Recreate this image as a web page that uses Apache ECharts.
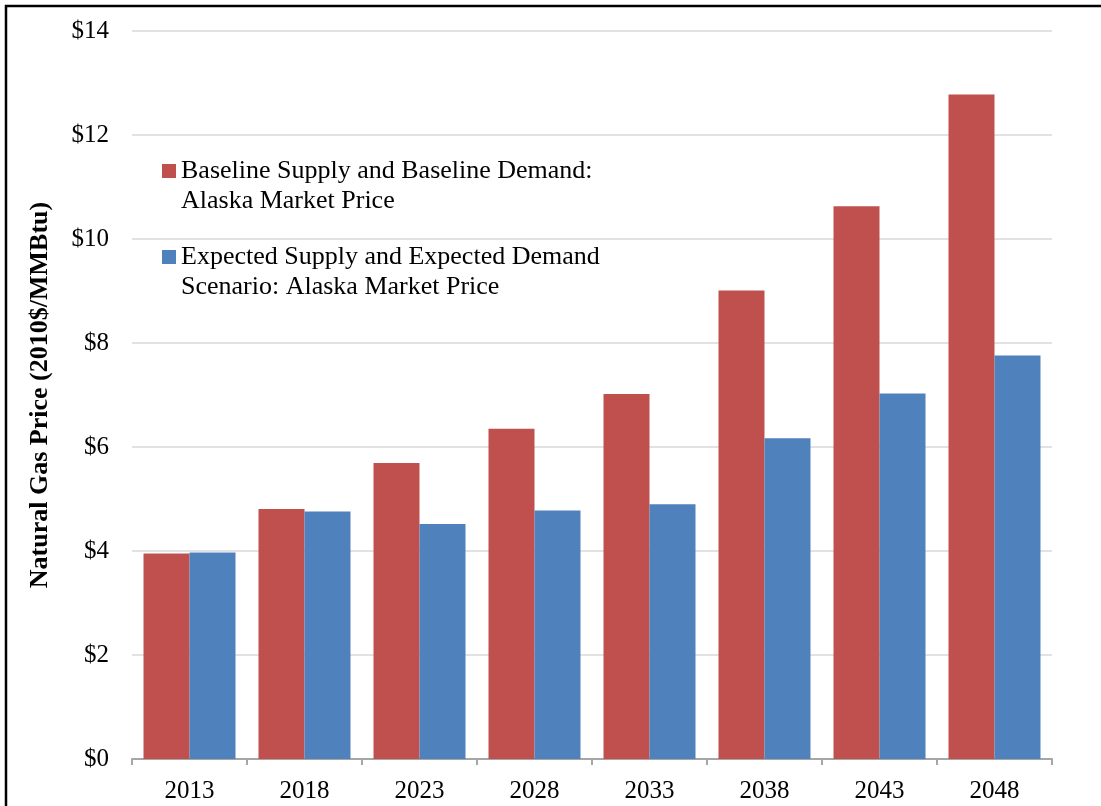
<!DOCTYPE html>
<html>
<head>
<meta charset="utf-8">
<title>Natural Gas Price</title>
<script src="https://cdn.jsdelivr.net/npm/echarts@6/dist/echarts.min.js"></script>
<style>
  html, body { margin: 0; padding: 0; background: #ffffff; }
  #chart { width: 1101px; height: 806px; }
</style>
</head>
<body>
<div id="chart"></div>
<script>
// Forecast years on the category axis
const years = ['2013', '2018', '2023', '2028', '2033', '2038', '2043', '2048'];

// Natural gas price, 2010$/MMBtu
const baselinePrice = [3.95, 4.81, 5.69, 6.35, 7.02, 9.01, 10.63, 12.78];
const expectedPrice = [3.97, 4.76, 4.52, 4.78, 4.90, 6.17, 7.03, 7.76];

const seriesNames = [
  'Baseline Supply and Baseline Demand:\nAlaska Market Price',
  'Expected Supply and Expected Demand\nScenario: Alaska Market Price'
];

const yTicks = { min: 0, max: 14, interval: 2 };

const serif = '"Liberation Serif", "Times New Roman", serif';
const RED = '#C0504D';
const BLUE = '#4F81BD';

const chart = echarts.init(document.getElementById('chart'), null, { renderer: 'canvas' });

// Legend text is centred on its swatch; a leading blank line keeps the
// swatch level with the first line of each two-line entry.
const legendText = {
  fontFamily: serif,
  fontSize: 26,
  color: '#000',
  lineHeight: 30
};

function legendBlock(top, name) {
  return {
    data: [name],
    left: 162, top: top,
    orient: 'vertical',
    icon: 'rect', itemWidth: 14, itemHeight: 14, itemGap: 0,
    padding: 0,
    selectedMode: false,
    formatter: n => '\n' + n,
    textStyle: legendText
  };
}

chart.setOption({
  animation: false,
  backgroundColor: '#ffffff',
  textStyle: { fontFamily: serif },
  grid: { left: 132, right: 49, top: 31, bottom: 47, containLabel: false },
  legend: [
    legendBlock(126, seriesNames[0]),
    legendBlock(212, seriesNames[1])
  ],
  xAxis: {
    type: 'category',
    data: years,
    axisLine: { show: true, lineStyle: { color: '#a6a6a6', width: 2 } },
    axisTick: { show: true, alignWithLabel: false, length: 6, lineStyle: { color: '#a6a6a6', width: 2 } },
    axisLabel: { fontFamily: serif, fontSize: 25, color: '#000', margin: 20 },
    splitLine: { show: false }
  },
  yAxis: {
    type: 'value',
    min: yTicks.min, max: yTicks.max, interval: yTicks.interval,
    name: 'Natural Gas Price (2010$/MMBtu)',
    nameLocation: 'middle',
    nameGap: 79,
    nameTextStyle: { fontFamily: serif, fontSize: 26, fontWeight: 'bold', color: '#000' },
    axisLine: { show: false },
    axisTick: { show: false },
    axisLabel: { fontFamily: serif, fontSize: 25, color: '#000', margin: 23, formatter: '${value}' },
    splitLine: { show: true, lineStyle: { color: '#d9d9d9', width: 1.5 } }
  },
  series: [
    {
      name: seriesNames[0],
      type: 'bar',
      data: baselinePrice,
      barGap: '0%',
      barCategoryGap: '20%',
      itemStyle: { color: RED }
    },
    {
      name: seriesNames[1],
      type: 'bar',
      data: expectedPrice,
      barGap: '0%',
      barCategoryGap: '20%',
      itemStyle: { color: BLUE }
    }
  ],
  graphic: [
    {
      type: 'rect',
      silent: true,
      shape: { x: 6, y: 6, width: 1300, height: 1000 },
      style: { fill: 'none', stroke: '#000', lineWidth: 2.5 }
    }
  ]
});
</script>
</body>
</html>
